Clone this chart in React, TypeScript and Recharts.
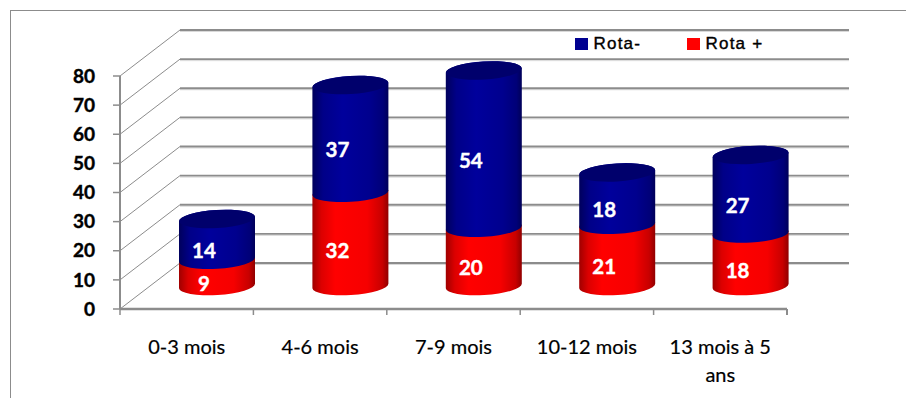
import React from "react";
import { BarChart, Bar, XAxis, YAxis, CartesianGrid, Legend, LabelList } from "recharts";

// a newline marks where a long category label breaks
const CATEGORIES = ["0-3 mois", "4-6 mois", "7-9 mois", "10-12 mois", "13 mois à 5\nans"];
const ROTA_POS = [9, 32, 20, 21, 18];
const ROTA_NEG = [14, 37, 54, 18, 27];
const Y_TICKS = [0, 10, 20, 30, 40, 50, 60, 70, 80];

const data = CATEGORIES.map((name, i) => ({ name, pos: ROTA_POS[i], neg: ROTA_NEG[i] }));

const GRID = "#8c8c8c";
const RED = "#ff0000";
const BLUE = "#000090";

// fake 3D box: back wall sits this far behind the axes
const WALL_DX = 60;
const WALL_DY = 46;
const BAND = 133.4;
const BAR_W = 76;
const RY = 9;
const TILT = -3.5;

function WallLine({ x1, y1, x2 }: any) {
  const backY = y1 - WALL_DY;
  const backX = x1 + WALL_DX;
  const endX = x2 + WALL_DX + 2;
  return (
    <g fill="none">
      <line x1={backX} y1={backY + 1.5} x2={endX} y2={backY + 1.5} stroke="#d9d9d9" strokeWidth={1} />
      <line x1={backX} y1={backY} x2={endX} y2={backY} stroke={GRID} strokeWidth={1.8} />
      <line x1={x1} y1={y1} x2={backX} y2={backY} stroke={GRID} strokeWidth={1} />
    </g>
  );
}

function Cylinder({ x, y, width, height, fill, cap }: any) {
  const rx = width / 2;
  const cx = x + rx + WALL_DX / 2;
  const h = Math.abs(height);
  const bottom = y + h - 23;
  const top = y - 23;
  const lift = rx * Math.sin((-TILT * Math.PI) / 180);
  const arc = (sweep: number, px: number, py: number) => `A ${rx} ${RY} ${TILT} 0 ${sweep} ${px} ${py}`;
  const body = [
    `M ${cx - rx} ${bottom + lift}`,
    arc(0, cx + rx, bottom - lift),
    `L ${cx + rx} ${top - lift}`,
    arc(0, cx - rx, top + lift),
    "Z",
  ].join(" ");
  return (
    <g>
      <path d={body} fill={fill === RED ? "url(#redSide)" : "url(#blueSide)"} />
      {cap && (
        <ellipse cx={cx} cy={top} rx={rx} ry={RY} fill="#00006c" transform={`rotate(${TILT} ${cx} ${top})`} />
      )}
    </g>
  );
}

function ValueLabel({ x, y, width, height, value }: any) {
  return (
    <text
      x={x + width / 2 + 17}
      y={y + Math.abs(height) / 2 - 12.5}
      textAnchor="middle"
      dominantBaseline="central"
      fill="#fff"
      stroke="#fff"
      strokeWidth={0.4}
      fontFamily="Lato"
      fontWeight={700}
      fontSize={20.5}
    >
      {value}
    </text>
  );
}

function CategoryTick({ x, y, payload, index }: any) {
  const left = x - BAND / 2;
  const lines = String(payload.value).split("\n");
  return (
    <g>
      <line x1={left} y1={y} x2={left} y2={y + 6} stroke={GRID} strokeWidth={1.5} />
      {index === CATEGORIES.length - 1 && (
        <line x1={left + BAND} y1={y} x2={left + BAND} y2={y + 6} stroke={GRID} strokeWidth={2} />
      )}
      <text
        y={y + 45}
        textAnchor="middle"
        fill="#000"
        stroke="#000"
        strokeWidth={0.2}
        fontFamily="Lato"
        fontSize={20}
      >
        {lines.map((line, i) => (
          <tspan key={i} x={x} dy={i === 0 ? 0 : 28}>
            {line}
          </tspan>
        ))}
      </text>
    </g>
  );
}

function LegendBox() {
  const items = [
    { label: "Rota-", color: BLUE, width: 112 },
    { label: "Rota +", color: RED, width: 90 },
  ];
  return (
    <div
      style={{
        display: "flex",
        fontFamily: "Liberation Sans",
        fontSize: 17,
        letterSpacing: 1.2,
        WebkitTextStroke: "0.4px #000",
      }}
    >
      {items.map((item) => (
        <div key={item.label} style={{ width: item.width, display: "flex", alignItems: "center" }}>
          <span style={{ width: 12.5, height: 11.5, background: item.color, marginRight: 6 }} />
          <span>{item.label}</span>
        </div>
      ))}
    </div>
  );
}

export default function App() {
  return (
    <div style={{ position: "absolute", left: 0, top: 0, width: 906, height: 398, background: "#fff" }}>
      {/* frame: only top and left edges stay inside the page */}
      <div style={{ position: "absolute", left: 10, top: 10, right: 0, bottom: 0, borderTop: `1px solid ${GRID}`, borderLeft: `1px solid ${GRID}` }} />
      <BarChart
        width={906}
        height={398}
        data={data}
        margin={{ top: 76, right: 119, bottom: 29, left: 80 }}
        style={{ position: "absolute", left: 0, top: 0 }}
      >
        <defs>
          <linearGradient id="redSide" x1="0" y1="0" x2="1" y2="0">
            <stop offset="0" stopColor="#a00000" />
            <stop offset="0.12" stopColor="#dc0000" />
            <stop offset="0.3" stopColor="#ff0000" />
            <stop offset="0.72" stopColor="#f60000" />
            <stop offset="0.92" stopColor="#c80000" />
            <stop offset="1" stopColor="#900000" />
          </linearGradient>
          <linearGradient id="blueSide" x1="0" y1="0" x2="1" y2="0">
            <stop offset="0" stopColor="#00005c" />
            <stop offset="0.14" stopColor="#000088" />
            <stop offset="0.4" stopColor="#00009c" />
            <stop offset="0.75" stopColor="#00008e" />
            <stop offset="0.93" stopColor="#000078" />
            <stop offset="1" stopColor="#000058" />
          </linearGradient>
        </defs>
        <CartesianGrid vertical={false} horizontal={(props: any) => <WallLine key={props.key} {...props} />} />
        <XAxis
          dataKey="name"
          interval={0}
          height={60}
          tickSize={0}
          tickMargin={0}
          tick={(props: any) => <CategoryTick {...props} />}
          axisLine={{ stroke: GRID, strokeWidth: 2.5 }}
        />
        <YAxis
          domain={[0, 80]}
          ticks={Y_TICKS}
          interval={0}
          width={40}
          tickSize={7}
          tickMargin={18}
          tickLine={{ stroke: GRID, strokeWidth: 1.5 }}
          axisLine={{ stroke: GRID, strokeWidth: 2 }}
          tick={{ fill: "#000", stroke: "#000", strokeWidth: 0.4, fontFamily: "Lato", fontWeight: 700, fontSize: 19 }}
        />
        <Legend
          layout="horizontal"
          align="center"
          verticalAlign="middle"
          wrapperStyle={{ left: 575, top: 34, width: 220 }}
          content={() => <LegendBox />}
        />
        <Bar
          dataKey="pos"
          name="Rota +"
          stackId="a"
          fill={RED}
          barSize={BAR_W}
          isAnimationActive={false}
          shape={(props: any) => <Cylinder {...props} />}
        >
          <LabelList dataKey="pos" content={(props: any) => <ValueLabel {...props} />} />
        </Bar>
        <Bar
          dataKey="neg"
          name="Rota-"
          stackId="a"
          fill={BLUE}
          barSize={BAR_W}
          isAnimationActive={false}
          shape={(props: any) => <Cylinder {...props} cap />}
        >
          <LabelList dataKey="neg" content={(props: any) => <ValueLabel {...props} />} />
        </Bar>
      </BarChart>
    </div>
  );
}
